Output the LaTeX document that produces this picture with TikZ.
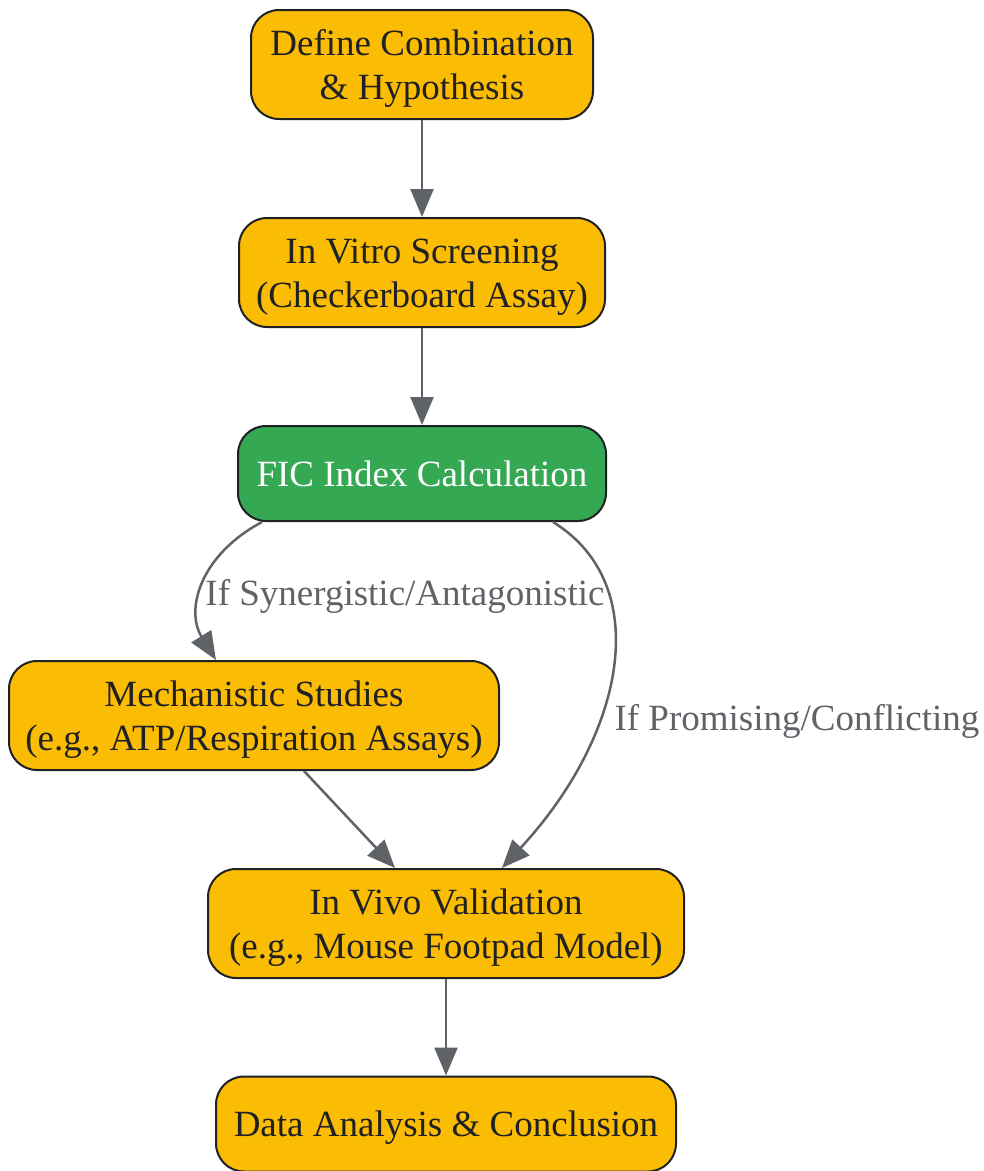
\documentclass[tikz,border=0pt]{standalone}
\usepackage{fontspec}
\setmainfont{Liberation Serif}
\usetikzlibrary{arrows.meta}
\definecolor{boxorange}{HTML}{FBBC04}
\definecolor{boxgreen}{HTML}{34A853}
\definecolor{edgegray}{HTML}{5F6368}
\definecolor{inkdark}{HTML}{202124}
\newcommand{\topstrut}{\rule{0pt}{34.5pt}}
\newcommand{\botstrut}{\rule[-9.5pt]{0pt}{9.5pt}}
\tikzset{
  stepbox/.style={draw=inkdark, line width=2pt, rounded corners=28pt, fill=boxorange,
    text=inkdark, align=center, minimum height=109pt, inner sep=0pt,
    font=\fontsize{37}{44}\selectfont},
  flow/.style={draw=edgegray, line width=2.5pt, -{Triangle[length=28pt,width=23pt]}},
  lbl/.style={text=edgegray, font=\fontsize{37}{44}\selectfont, inner sep=0pt}
}
\begin{document}
\begin{tikzpicture}[x=1pt,y=-1pt]
\useasboundingbox (0,0) rectangle (984,1171);
\node[stepbox, minimum width=342pt] (def) at (422,64.5) {\topstrut Define Combination\\\& Hypothesis\botstrut};
\node[stepbox, minimum width=366pt] (vitro) at (422,272.5) {\topstrut In Vitro Screening\\(Checkerboard Assay)\botstrut};
\node[stepbox, minimum width=368pt, minimum height=95pt, fill=boxgreen, text=white] (fic) at (422,473.5) {\topstrut FIC Index Calculation\botstrut};
\node[stepbox, minimum width=490pt] (mech) at (254,715.5) {\topstrut Mechanistic Studies\\(e.g., ATP/Respiration Assays)\botstrut};
\node[stepbox, minimum width=476pt] (vivo) at (446,923.5) {\topstrut In Vivo Validation\\(e.g., Mouse Footpad Model)\botstrut};
\node[stepbox, minimum width=460pt, minimum height=95pt] (data) at (446,1124) {\topstrut Data Analysis \& Conclusion\botstrut};

\draw[flow] (def) -- (vitro);
\draw[flow] (vitro) -- (fic);
\draw[flow] ([xshift=-160pt]fic.south) .. controls (200,555) and (185,610) .. ([xshift=-38pt]mech.north);
\draw[flow] ([xshift=131pt]fic.south) .. controls (655,585) and (625,735) .. ([xshift=56pt]vivo.north);
\draw[flow] ([xshift=50pt]mech.south) -- ([xshift=-51pt]vivo.north);
\draw[flow] (vivo) -- (data);

\node[lbl] (l1) at (405,593) {\topstrut If Synergistic/Antagonistic\botstrut};
\node[lbl] (l2) at (797,718) {\topstrut If Promising/Conflicting\botstrut};
\end{tikzpicture}
\end{document}
